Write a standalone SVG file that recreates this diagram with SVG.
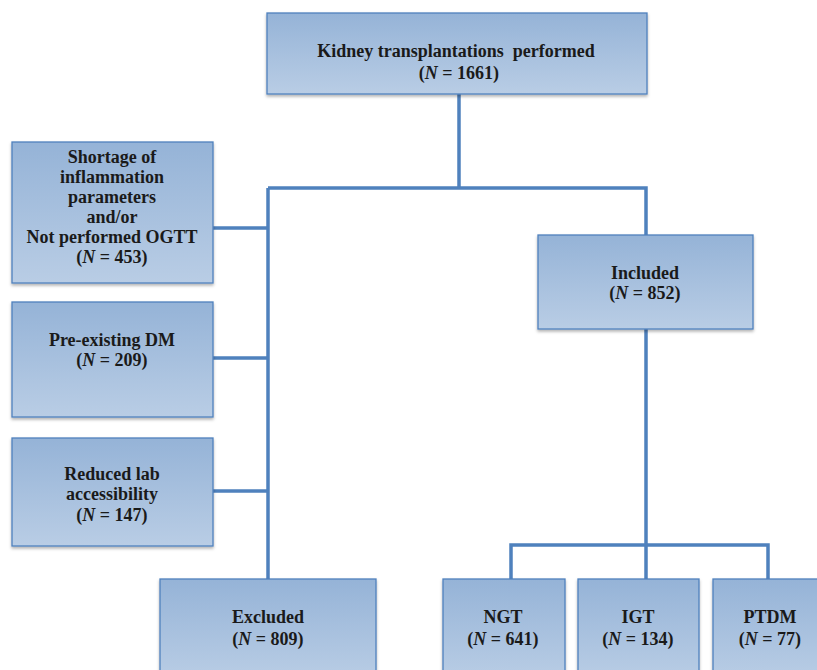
<svg xmlns="http://www.w3.org/2000/svg" width="817" height="670" viewBox="0 0 817 670">
<style>
.box{fill:url(#g);stroke:#4f81bd;stroke-width:1.3;filter:url(#sh)}
.c{fill:none;stroke:#4f81bd;stroke-width:3.5;stroke-linejoin:miter}
</style>
<defs>
<linearGradient id="g" x1="0" y1="0" x2="0" y2="1">
<stop offset="0" stop-color="#95b3d7"/>
<stop offset="1" stop-color="#b9cde5"/>
</linearGradient>
<filter id="sh" x="-10%" y="-10%" width="120%" height="130%">
<feDropShadow dx="0" dy="2" stdDeviation="1.5" flood-color="#000" flood-opacity="0.3"/>
</filter>
</defs>
<rect width="817" height="670" fill="#fff"/>
<g id="connectors">
<path class="c" d="M459 94V188M268 188H646V235"/>
<path class="c" d="M268 188V579"/>
<path class="c" d="M213 228H268M213 358H268M213 491H268"/>
<path class="c" d="M646 329V579M511 579V545H768V579"/>
</g>
<g font-weight="bold" font-size="18" fill="#1a1a1a" text-anchor="middle">
<g id="top">
<rect class="box" x="267" y="13" width="380" height="81"/>
<text font-family="Liberation Serif" x="456" y="57" xml:space="preserve">Kidney transplantations  performed</text>
<text font-family="Liberation Serif" x="459" y="79">(<tspan font-style="italic">N</tspan> = 1661)</text>
</g>
<g id="shortage">
<rect class="box" x="12" y="142" width="201" height="141"/>
<text font-family="Liberation Serif" x="112" y="163">Shortage of</text>
<text font-family="Liberation Serif" x="112" y="183">inflammation</text>
<text font-family="Liberation Serif" x="112" y="203">parameters</text>
<text font-family="Liberation Serif" x="112" y="223">and/or</text>
<text font-family="Liberation Serif" x="112" y="243">Not performed OGTT</text>
<text font-family="Liberation Serif" x="112" y="263">(<tspan font-style="italic">N</tspan> = 453)</text>
</g>
<g id="preexisting">
<rect class="box" x="12" y="302" width="201" height="115"/>
<text font-family="Liberation Serif" x="112" y="346">Pre-existing DM</text>
<text font-family="Liberation Serif" x="112" y="366">(<tspan font-style="italic">N</tspan> = 209)</text>
</g>
<g id="reduced">
<rect class="box" x="12" y="438" width="201" height="108"/>
<text font-family="Liberation Serif" x="112" y="480">Reduced lab</text>
<text font-family="Liberation Serif" x="112" y="500">accessibility</text>
<text font-family="Liberation Serif" x="112" y="521">(<tspan font-style="italic">N</tspan> = 147)</text>
</g>
<g id="included">
<rect class="box" x="538" y="235" width="215" height="94"/>
<text font-family="Liberation Serif" x="645" y="279">Included</text>
<text font-family="Liberation Serif" x="645" y="299">(<tspan font-style="italic">N</tspan> = 852)</text>
</g>
<g id="excluded">
<rect class="box" x="160" y="579" width="216" height="100"/>
<text font-family="Liberation Serif" x="268" y="623">Excluded</text>
<text font-family="Liberation Serif" x="268" y="645">(<tspan font-style="italic">N</tspan> = 809)</text>
</g>
<g id="ngt">
<rect class="box" x="443" y="579" width="122" height="100"/>
<text font-family="Liberation Serif" x="503" y="623">NGT</text>
<text font-family="Liberation Serif" x="503" y="645">(<tspan font-style="italic">N</tspan> = 641)</text>
</g>
<g id="igt">
<rect class="box" x="578" y="579" width="121" height="100"/>
<text font-family="Liberation Serif" x="638" y="623">IGT</text>
<text font-family="Liberation Serif" x="638" y="645">(<tspan font-style="italic">N</tspan> = 134)</text>
</g>
<g id="ptdm">
<rect class="box" x="713" y="579" width="110" height="100"/>
<text font-family="Liberation Serif" x="770" y="623">PTDM</text>
<text font-family="Liberation Serif" x="770" y="645">(<tspan font-style="italic">N</tspan> = 77)</text>
</g>
</g>
</svg>
